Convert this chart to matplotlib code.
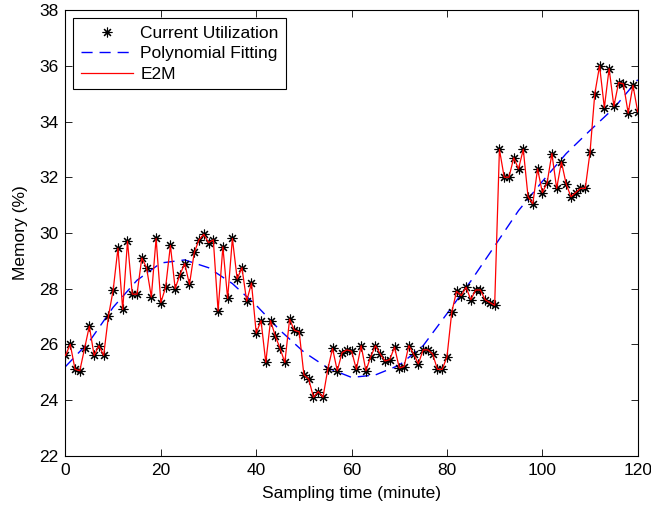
import numpy as np
import matplotlib
matplotlib.use('Agg')
import matplotlib.pyplot as plt

plt.rcParams['font.family'] = ['Liberation Sans', 'DejaVu Sans']

# sampling time (minutes) and memory utilization (%)
minutes = list(range(0, 121))
memory = [25.6, 26.0, 25.1, 25.05, 25.85, 26.65, 25.6, 25.95, 25.6, 27.0,
          27.95, 29.45, 27.25, 29.7, 27.8, 27.8, 29.1, 28.75, 27.7, 29.8,
          27.5, 28.05, 29.55, 28.0, 28.5, 28.9, 28.15, 29.3, 29.75, 29.95,
          29.65, 29.75, 27.2, 29.5, 27.65, 29.8, 28.35, 28.75, 27.55, 28.2,
          26.4, 26.85, 25.35, 26.85, 26.3, 25.85, 25.35, 26.9, 26.5, 26.45,
          24.9, 24.75, 24.1, 24.3, 24.1, 25.1, 25.85, 25.05, 25.7, 25.8,
          25.75, 25.1, 25.95, 25.05, 25.55, 25.95, 25.65, 25.4, 25.45, 25.9,
          25.15, 25.2, 25.95, 25.65, 25.3, 25.8, 25.8, 25.65, 25.1, 25.1,
          25.55, 27.15, 27.9, 27.75, 28.05, 27.6, 27.95, 27.95, 27.6, 27.5,
          27.4, 33.0, 32.0, 32.0, 32.7, 32.3, 33.0, 31.3, 31.05, 32.3,
          31.45, 31.8, 32.85, 31.6, 32.55, 31.75, 31.3, 31.45, 31.6, 31.6,
          32.9, 35.0, 36.0, 34.5, 35.9, 34.55, 35.4, 35.35, 34.3, 35.3,
          34.35]

# polynomial fitting curve
fit_minutes = list(range(0, 121, 5))
fit_memory = [25.2, 26.1, 27.33, 28.3, 28.92, 29.03, 28.75, 28.18, 27.4, 26.5,
              25.72, 25.15, 24.81, 24.9, 25.25, 25.95, 27.1, 28.27, 29.53, 30.8,
              31.85, 32.85, 33.68, 34.48, 35.5]

fig = plt.figure(figsize=(6.51, 5.08), dpi=100)
ax = fig.add_axes([0.1006, 0.103, 0.879, 0.877])

ax.plot(minutes, memory, linestyle='none', marker=(8, 2, 0), markersize=7,
        markeredgewidth=0.8, color='black', label='Current Utilization', zorder=3)
ax.plot(fit_minutes, fit_memory, color='#0000ff', linewidth=1, dashes=(8, 5),
        label='Polynomial Fitting', zorder=2)
ax.plot(minutes, memory, color='#ff0000', linewidth=0.9, label='E2M', zorder=4)

ax.set_xlim(0, 120)
ax.set_ylim(22, 38)
ax.set_xticks(range(0, 121, 20))
ax.set_yticks(range(22, 39, 2))
ax.tick_params(direction='in', top=True, right=True, length=5, width=0.6,
               labelsize=12.5, pad=5)
for s in ax.spines.values():
    s.set_linewidth(0.8)

ax.set_xlabel('Sampling time (minute)', fontsize=12.5, labelpad=6)
ax.set_ylabel('Memory (%)', fontsize=12.5, labelpad=8)

leg = ax.legend(loc='upper left', fontsize=12.5, fancybox=False, framealpha=1,
                edgecolor='black', borderaxespad=0.45, handlelength=3.0,
                borderpad=0.45, labelspacing=0.3, handletextpad=0.4)
leg.get_frame().set_linewidth(0.8)

plt.savefig('out.png', dpi=100)
